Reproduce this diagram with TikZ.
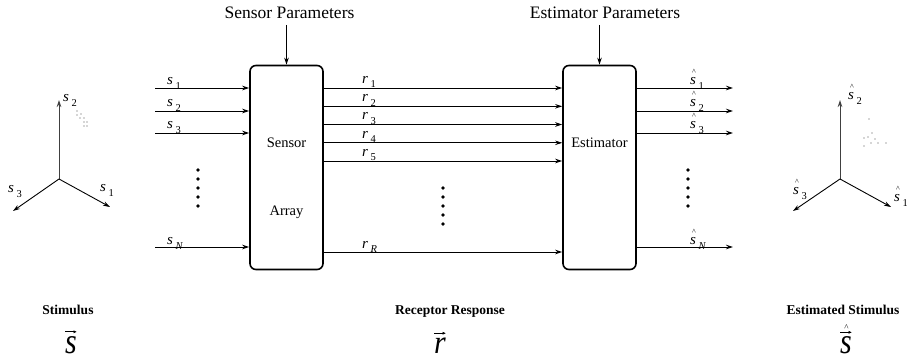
\documentclass[tikz,border=0pt]{standalone}
\usepackage{fontspec}
\setmainfont{Liberation Serif}[ItalicFont={Liberation Serif Italic},BoldFont={Liberation Serif Bold}]
\newfontfamily\itfont{Liberation Serif Italic}
\usetikzlibrary{arrows.meta}
\newcommand\lbl[2]{{\itfont #1}\hspace{2.5pt}\raisebox{-4.5pt}{\fontsize{10.5}{10.5}\selectfont #2}}
\newcommand\hatmark{\makebox[0pt][l]{\hspace{1.8pt}\raisebox{10pt}{\fontsize{8}{8}\selectfont\textasciicircum}}}
\newcommand\hlbl[2]{\hatmark\lbl{#1}{#2}}
\begin{document}
\begin{tikzpicture}[x=1pt,y=-1pt,
  lab/.style={anchor=base west, inner sep=0pt, font=\fontsize{15}{15}\selectfont},
  arr/.style={-{Stealth[length=7pt,width=4.5pt]}, line width=0.9pt},
  axarr/.style={-{Stealth[length=7pt,width=4.5pt]}, line width=0.9pt},
  blk/.style={draw, line width=1.6pt, rounded corners=6pt, minimum width=73pt, minimum height=204pt, inner sep=0pt},
  boxtxt/.style={anchor=base, inner sep=0pt, font=\fontsize{14.5}{14.5}\selectfont},
  toptxt/.style={anchor=base, inner sep=6pt, font=\fontsize{17.5}{17.5}\selectfont},
  bottxt/.style={anchor=base, inner sep=0pt, font=\fontsize{13.5}{13.5}\selectfont\bfseries},
  bigv/.style={anchor=base, inner sep=0pt, font=\fontsize{30}{30}\selectfont\itfont},
  vecarr/.style={-{Latex[length=3.5pt,width=3.2pt]}, line width=0.8pt},
  dot/.style={fill, circle, inner sep=0pt, minimum size=3.6pt},
  pt/.style={fill=black!70, circle, inner sep=0pt, minimum size=1.1pt}]
\useasboundingbox (0,0) rectangle (907,358);

% blocks
\node[blk] (sensor) at (286.5,167.5) {};
\node[blk] (estim) at (599.5,167.5) {};
\node[boxtxt] (sensorT) at (286.5,148) {Sensor};
\node[boxtxt] (arrayT) at (286.5,215) {Array};
\node[boxtxt] (estimT) at (599.5,148) {Estimator};

% parameters
\node[toptxt] (sp) at (289.5,18.5) {Sensor Parameters};
\node[toptxt] (ep) at (605,18.5) {Estimator Parameters};
\draw[arr] (sensor.north |- sp.south) -- (sensor.north);
\draw[arr] (estim.north |- ep.south) -- (estim.north);

% inputs
\foreach \n/\y in {1/88,2/111,3/133,N/247}{
  \coordinate (in\n) at (155,\y);
  \draw[arr] (in\n) -- (in\n -| sensor.west);
}
\node[lab] (ls1) at (167,85) {\lbl{s}{1}};
\node[lab] (ls2) at (167,107) {\lbl{s}{2}};
\node[lab] (ls3) at (167,129) {\lbl{s}{3}};
\node[lab] (lsN) at (167,244.5) {\lbl{s}{{\itfont N}}};
\node[dot] (d1a) at (198,170) {};
\node[dot] (d1b) at (198,179) {};
\node[dot] (d1c) at (198,188) {};
\node[dot] (d1d) at (198,197) {};
\node[dot] (d1e) at (198,206) {};

% receptor responses
\foreach \n/\y in {1/88,2/106.3,3/124.5,4/142.8,5/161,R/252}{
  \coordinate (r\n) at (sensor.east |- 0,\y);
  \draw[arr] (r\n) -- (r\n -| estim.west);
}
\node[lab] (lr1) at (362,83.5) {\lbl{r}{1}};
\node[lab] (lr2) at (362,101.8) {\lbl{r}{2}};
\node[lab] (lr3) at (362,120) {\lbl{r}{3}};
\node[lab] (lr4) at (362,138.3) {\lbl{r}{4}};
\node[lab] (lr5) at (362,156.5) {\lbl{r}{5}};
\node[lab] (lrR) at (362,248) {\lbl{r}{{\itfont R}}};
\node[dot] (d2a) at (443,188) {};
\node[dot] (d2b) at (443,197) {};
\node[dot] (d2c) at (443,206) {};
\node[dot] (d2d) at (443,215) {};
\node[dot] (d2e) at (443,224) {};

% outputs
\foreach \n/\y in {1/88,2/111,3/133,N/247}{
  \coordinate (out\n) at (733,\y);
  \draw[arr] (out\n -| estim.east) -- (out\n);
}
\node[lab] (lo1) at (690,85) {\hlbl{s}{1}};
\node[lab] (lo2) at (690,107) {\hlbl{s}{2}};
\node[lab] (lo3) at (690,129) {\hlbl{s}{3}};
\node[lab] (loN) at (690,244.5) {\hlbl{s}{{\itfont N}}};
\node[dot] (d3a) at (688,170) {};
\node[dot] (d3b) at (688,179) {};
\node[dot] (d3c) at (688,188) {};
\node[dot] (d3d) at (688,197) {};
\node[dot] (d3e) at (688,206) {};

% left axes
\coordinate (o1) at (59,179);
\coordinate (a1up) at (59,100);
\coordinate (a1r) at (110,207);
\coordinate (a1l) at (13,211);
\draw[axarr, draw=black!75] (o1) -- (a1up);
\draw[axarr] (o1) -- (a1r);
\draw[axarr] (o1) -- (a1l);
\node[lab] (ax1s2) at (63,102) {\lbl{s}{2}};
\node[lab] (ax1s1) at (100,192) {\lbl{s}{1}};
\node[lab] (ax1s3) at (8,193) {\lbl{s}{3}};
\foreach \p in {(77,111),(77,115),(81,114),(80,118),(84,118),(84,122),(84,126),(87,122),(87,126)}
  \node[pt] at \p {};

% right axes
\coordinate (o2) at (840,179);
\coordinate (a2up) at (840,100);
\coordinate (a2r) at (891,207);
\coordinate (a2l) at (793,211);
\draw[axarr, draw=black!75] (o2) -- (a2up);
\draw[axarr] (o2) -- (a2r);
\draw[axarr] (o2) -- (a2l);
\node[lab] (ax2s2) at (848,100) {\hlbl{s}{2}};
\node[lab] (ax2s1) at (894,202) {\hlbl{s}{1}};
\node[lab] (ax2s3) at (793,195) {\hlbl{s}{3}};
\foreach \p in {(869,119),(872,133),(868,137),(864,138),(864,146),(871,143),(878,143),(886,143),(875,139)}
  \node[pt] at \p {};

% bottom labels
\node[bottxt] (stim) at (68,314) {Stimulus};
\node[bottxt] (resp) at (450,314) {Receptor Response};
\node[bottxt] (estst) at (843,314) {Estimated Stimulus};

\node[bigv] (vs) at (71,353) {\scalebox{1}[1.2]{s}};
\node[bigv] (vr) at (440,353) {\scalebox{1}[1.1]{r}};
\node[bigv] (vhs) at (846,353) {\scalebox{1}[1.2]{s}};
\node[anchor=base, inner sep=0pt, font=\fontsize{9}{9}\selectfont] (vhat) at (846.5,330) {\textasciicircum};
\draw[vecarr] ([xshift=-6pt,yshift=4pt]vs.north) -- ([xshift=6pt,yshift=4pt]vs.north);
\draw[vecarr] ([xshift=-6pt,yshift=4pt]vr.north) -- ([xshift=6pt,yshift=4pt]vr.north);
\draw[vecarr] ([xshift=-6pt,yshift=3.5pt]vhs.north) -- ([xshift=6pt,yshift=3.5pt]vhs.north);
\end{tikzpicture}
\end{document}
